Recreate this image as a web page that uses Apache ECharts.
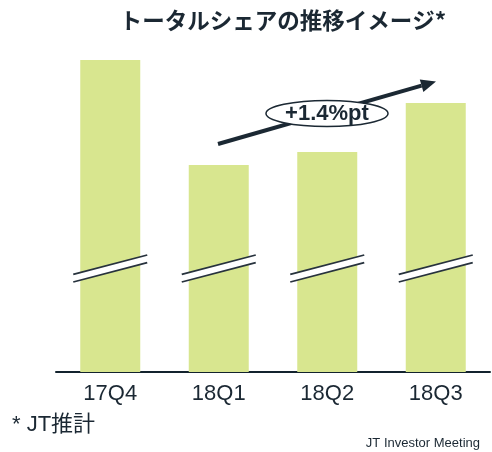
<!DOCTYPE html>
<html>
<head>
<meta charset="utf-8">
<script src="https://cdn.jsdelivr.net/npm/echarts@6/dist/echarts.min.js"></script>
<style>
html,body{margin:0;padding:0;background:#fff;}
#chart{width:492px;height:452px;}
</style>
</head>
<body>
<div id="chart"></div>
<script>
var categories = ['17Q4', '18Q1', '18Q2', '18Q3'];
var shareImage = [312, 207, 220, 269];
var breakLevel = [103.5, 103.5, 103.5, 103.5];
var titleText = 'トータルシェアの推移イメージ*';
var changeLabel = '+1.4%pt';
var footnote = '* JT推計';
var sourceText = 'JT Investor Meeting';

var dark = '#1b2833';
var chart = echarts.init(document.getElementById('chart'));

// arrow geometry (annotation)
var tip = [436, 81.5], start = [218, 144];
var dx = tip[0] - start[0], dy = tip[1] - start[1];
var len = Math.sqrt(dx * dx + dy * dy);
var ux = dx / len, uy = dy / len, nx = -uy, ny = ux;
var headL = 15, headW = 6.5;
var base = [tip[0] - headL * ux, tip[1] - headL * uy];

chart.setOption({
  animation: false,
  title: {
    text: titleText,
    left: 278, top: 4, textAlign: 'center',
    textStyle: { fontFamily: 'Noto Sans CJK JP', fontWeight: 'bold', fontSize: 22.5, color: dark }
  },
  grid: { left: 56, right: 2, top: 52, bottom: 80 },
  xAxis: {
    type: 'category', data: categories,
    axisLine: { lineStyle: { color: '#13232e', width: 2 } },
    axisTick: { show: false },
    axisLabel: { fontFamily: 'Liberation Sans, Arial', fontSize: 22, color: dark, margin: 11 }
  },
  yAxis: { type: 'value', min: 0, max: 320, show: false, splitLine: { show: false } },
  series: [
    {
      type: 'bar', data: shareImage, barWidth: 60,
      itemStyle: { color: '#d8e68f' }, silent: true
    },
    {
      type: 'custom', z: 5, silent: true,
      data: breakLevel.map(function (v, i) { return [i, v]; }),
      encode: { x: 0, y: 1 },
      renderItem: function (params, api) {
        var p = api.coord([api.value(0), api.value(1)]);
        var cx = p[0], cy = p[1];
        var hw = 37, a = 5.8, b = 13.5;
        return {
          type: 'group',
          children: [
            { type: 'polygon', shape: { points: [[cx - hw, cy + a], [cx + hw, cy - b], [cx + hw, cy - a], [cx - hw, cy + b]] }, style: { fill: '#fff' } },
            { type: 'line', shape: { x1: cx - hw, y1: cy + a, x2: cx + hw, y2: cy - b }, style: { stroke: '#27323d', lineWidth: 1.8 } },
            { type: 'line', shape: { x1: cx - hw, y1: cy + b, x2: cx + hw, y2: cy - a }, style: { stroke: '#27323d', lineWidth: 1.8 } }
          ]
        };
      }
    }
  ],
  graphic: [
    { type: 'line', z: 10, shape: { x1: start[0], y1: start[1], x2: base[0], y2: base[1] }, style: { stroke: dark, lineWidth: 4 } },
    { type: 'polygon', z: 10, shape: { points: [tip, [base[0] + headW * nx, base[1] + headW * ny], [base[0] - headW * nx, base[1] - headW * ny]] }, style: { fill: dark } },
    { type: 'ellipse', z: 11, shape: { cx: 327, cy: 113.5, rx: 61, ry: 13 }, style: { fill: '#fff', stroke: dark, lineWidth: 1.5 } },
    { type: 'text', z: 12, x: 327, y: 114, style: { text: changeLabel, fontFamily: 'Liberation Sans, Arial', fontWeight: 'bold', fontSize: 22, fill: dark, align: 'center', verticalAlign: 'middle' } },
    { type: 'text', z: 12, x: 12, y: 425, style: { text: footnote, fontFamily: 'Liberation Sans, Noto Sans CJK JP', fontSize: 22, fill: dark, align: 'left', verticalAlign: 'middle' } },
    { type: 'text', z: 12, x: 480, y: 443, style: { text: sourceText, fontFamily: 'Liberation Sans, Arial', fontSize: 13, fill: dark, align: 'right', verticalAlign: 'middle' } }
  ]
});
</script>
</body>
</html>
